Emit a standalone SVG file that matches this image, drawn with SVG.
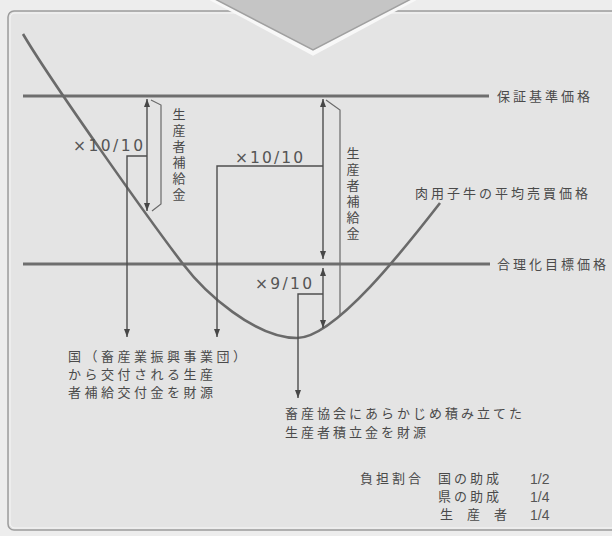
<svg xmlns="http://www.w3.org/2000/svg" width="612" height="536" viewBox="0 0 612 536">
  <defs>
    <marker id="ah" viewBox="0 0 8 8" refX="8" refY="4" markerWidth="8" markerHeight="8" markerUnits="userSpaceOnUse" orient="auto-start-reverse">
      <path d="M0,1 L8,4 L0,7 z" fill="#474747"/>
    </marker>
    <style>
      .jp { font-family: "Noto Sans CJK JP", "Noto Sans", sans-serif; font-size: 13px; letter-spacing: 3px; fill: #4a4a4a; }
      .num { font-family: "DejaVu Sans", "Liberation Sans", sans-serif; font-size: 15.5px; fill: #555555; }
      .frac { font-family: "Liberation Sans", "DejaVu Sans", sans-serif; font-size: 14px; fill: #555555; }
      .vt { writing-mode: vertical-rl; }
      .hline { stroke: #6e6e6e; stroke-width: 3; fill: none; }
      .curve { stroke: #6a6a6a; stroke-width: 2.6; fill: none; }
      .arr { stroke: #4e4e4e; stroke-width: 1.4; fill: none; }
      .brk { stroke: #6a6a6a; stroke-width: 1.2; fill: none; }
    </style>
  </defs>

  <!-- background and frame -->
  <rect x="0" y="0" width="612" height="536" fill="#ededed"/>
  <rect id="frame" x="8" y="11" width="620" height="519" rx="6" fill="#e4e4e4" stroke="#9c9c9c" stroke-width="1.5"/>
  <rect x="10" y="13" width="616" height="515" rx="5" fill="none" stroke="#f6f6f6" stroke-width="1"/>

  <!-- chevron at top -->
  <g id="chevron">
    <polygon points="211,-2 415,-2 313,53" fill="none" stroke="#f8f8f8" stroke-width="5"/>
    <polygon points="213,-2 413,-2 313,50" fill="#c5c5c5" stroke="#a0a0a0" stroke-width="1.5"/>
  </g>

  <!-- price lines -->
  <g id="line-hosho">
    <line class="hline" x1="23" y1="96" x2="489" y2="96"/>
    <text class="jp" x="497" y="101">保証基準価格</text>
  </g>
  <g id="line-gorika">
    <line class="hline" x1="23" y1="264" x2="490" y2="264"/>
    <text class="jp" x="497" y="269">合理化目標価格</text>
  </g>

  <!-- average price curve -->
  <g id="curve">
    <path class="curve" d="M23,34 C50,80 150,221 183,264 C205,293 255,338 297,338 C335,338 405,248 440,203"/>
    <text class="jp" x="415" y="198">肉用子牛の平均売買価格</text>
  </g>

  <!-- labels -->
  <g id="label-x10-left">
    <text class="num" x="73" y="151" textLength="70" lengthAdjust="spacing">×10/10</text>
  </g>
  <g id="label-x10-mid">
    <text class="num" x="235" y="163" textLength="68" lengthAdjust="spacing">×10/10</text>
  </g>
  <g id="label-x9">
    <text class="num" x="255" y="289" textLength="57" lengthAdjust="spacing">×9/10</text>
  </g>
  <g id="label-hokyu-1">
    <text class="jp vt" x="179" y="108">生産者補給金</text>
  </g>
  <g id="label-hokyu-2">
    <text class="jp vt" x="353" y="147">生産者補給金</text>
  </g>

  <g id="source-kuni">
    <text class="jp" x="68" y="361" style="letter-spacing:3.5px">国（畜産業振興事業団）</text>
    <text class="jp" x="68" y="379" style="letter-spacing:3.5px">から交付される生産</text>
    <text class="jp" x="68" y="397" style="letter-spacing:3.5px">者補給交付金を財源</text>
  </g>
  <g id="source-kyokai">
    <text class="jp" x="285" y="418">畜産協会にあらかじめ積み立てた</text>
    <text class="jp" x="285" y="437">生産者積立金を財源</text>
  </g>
  <g id="futan">
    <text class="jp" x="360" y="483">負担割合</text>
    <text class="jp" x="438" y="483">国の助成</text>
    <text class="frac" x="530" y="484">1/2</text>
    <text class="jp" x="438" y="501">県の助成</text>
    <text class="frac" x="530" y="502">1/4</text>
    <text class="jp" x="440" y="519" style="letter-spacing:14px">生産者</text>
    <text class="frac" x="530" y="520">1/4</text>
  </g>

  <!-- connectors -->
  <g id="connectors">
    <line class="arr" x1="147" y1="99" x2="147" y2="211" marker-start="url(#ah)" marker-end="url(#ah)"/>
    <polyline class="brk" points="151,100 161,105 161,204 152,211"/>
    <polyline class="arr" points="147,156 127,156 127,337" marker-end="url(#ah)"/>
    <polyline class="arr" points="323,166 217,166 217,337" marker-end="url(#ah)"/>
    <line class="arr" x1="323" y1="99" x2="323" y2="259" marker-start="url(#ah)" marker-end="url(#ah)"/>
    <line class="arr" x1="323" y1="268" x2="323" y2="328" marker-start="url(#ah)" marker-end="url(#ah)"/>
    <polyline class="brk" points="326,100 340,110 340,316"/>
    <polyline class="arr" points="323,294 298,294 298,398" marker-end="url(#ah)"/>
  </g>
</svg>
